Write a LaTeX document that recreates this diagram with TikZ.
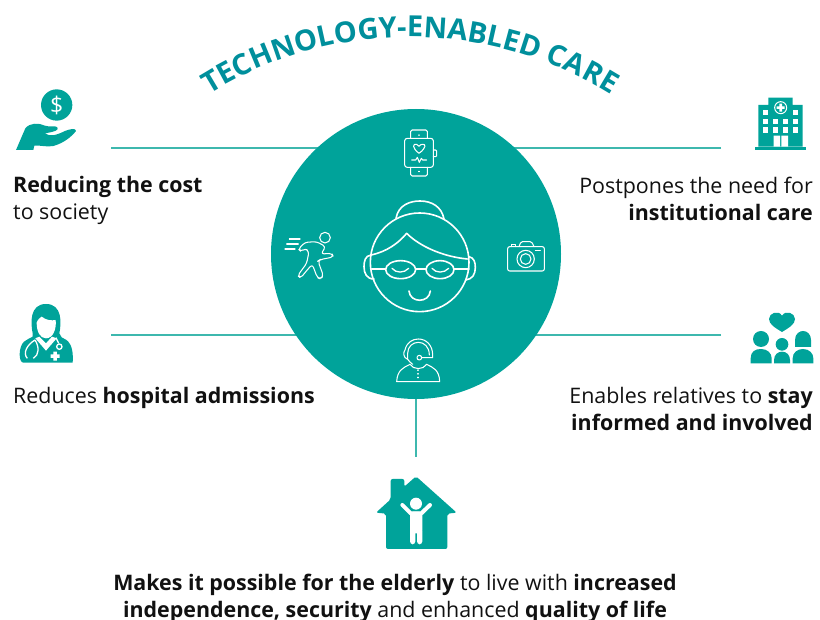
\documentclass[tikz,border=0pt]{standalone}
\usepackage{fontspec}
\setmainfont{Open Sans}
\usetikzlibrary{decorations.text,backgrounds}
\definecolor{teal1}{HTML}{00A39A}
\definecolor{teal2}{HTML}{008F9C}
\definecolor{rule1}{HTML}{3DB8AE}
\definecolor{ink}{HTML}{111111}
\tikzset{
  lab/.style={font=\fontsize{21.4}{27}\selectfont, text=ink, inner sep=0pt},
  link/.style={draw=rule1, line width=1.1pt},
  wl/.style={draw=white, line width=1.6pt, line join=round, line cap=round},
  wt/.style={draw=white, line width=1.05pt, line join=round, line cap=round},
  tf/.style={fill=teal1, draw=none},
  wf/.style={fill=white, draw=none},
  zoomA/.style={shift={(270,105)}, scale=1/3},
  zoomB/.style={shift={(0,80)}, scale=1/3},
  zoomC/.style={shift={(720,85)}, scale=1/3},
  zoomD/.style={shift={(360,465)}, scale=1/3}
}
\begin{document}
\begin{tikzpicture}[x=1pt,y=-1pt]
\useasboundingbox (0,0) rectangle (820,620);
\node[circle, fill=teal1, minimum size=290pt, inner sep=0pt] (hub) at (416,254) {};
% title
\path[decorate, decoration={text along path, text align=center,
  text={|\fontsize{29}{29}\selectfont\bfseries\color{teal2}|TECHNOLOGY-ENABLED CARE}}]
  (410,417) ++(230:380) arc[start angle=230, end angle=310, radius=380];
% labels
\node[lab, anchor=north west, align=left] (cost) at (13,176.5) {\textbf{Reducing the cost}\\to society};
\node[lab, anchor=north east, align=right] (inst) at (813,176.5) {Postpones the need for\\\textbf{institutional care}};
\node[lab, anchor=north west, align=left] (hosp) at (13,387.5) {Reduces \textbf{hospital admissions}};
\node[lab, anchor=north east, align=right] (rel) at (813,387.5) {Enables relatives to \textbf{stay}\\\textbf{informed and involved}};
\node[lab, anchor=north, align=center] (life) at (395,573.5) {\textbf{Makes it possible for the elderly} to live with \textbf{increased}\\\textbf{independence, security} and enhanced \textbf{quality of life}};
% connectors
\coordinate (costEnd) at (111,148);
\coordinate (instEnd) at (721,148);
\coordinate (hospEnd) at (111,335);
\coordinate (relEnd) at (721,335);
\coordinate (homeEnd) at (416,457);
\begin{scope}[on background layer]
\draw[link] (costEnd) -- (hub.center |- costEnd);
\draw[link] (instEnd) -- (hub.center |- instEnd);
\draw[link] (hospEnd) -- (hub.center |- hospEnd);
\draw[link] (relEnd) -- (hub.center |- relEnd);
\draw[link] (homeEnd) -- (hub.center);
\end{scope}
% grandmother, watch, camera, runner, agent
\begin{scope}[zoomA]
 \draw[wl] (449,472) circle[radius=148];
 \draw[wl] (378,340) .. controls (385,300) and (420,288) .. (450,288) .. controls (485,288) and (515,305) .. (522,342);
 \draw[wl] (303,450) .. controls (350,440) and (385,415) .. (410,385) .. controls (450,425) and (520,455) .. (592,462);
 \draw[wl] (303,450) .. controls (285,452) and (282,470) .. (282,485) .. controls (282,505) and (290,522) .. (312,522);
 \draw[wl] (597,455) .. controls (612,458) and (616,472) .. (616,487) .. controls (616,507) and (608,522) .. (588,525);
 \draw[wl] (392,494) ellipse[x radius=45, y radius=27];
 \draw[wl] (510,494) ellipse[x radius=42, y radius=27];
 \draw[wl] (305,492) -- (347,492) (437,492) -- (468,492) (552,492) -- (597,492);
 \draw[wt,line width=1.3pt] (366,490) .. controls (378,505) and (402,505) .. (416,490);
 \draw[wt,line width=1.3pt] (486,490) .. controls (498,505) and (522,505) .. (536,490);
 \draw[wl] (417,558) .. controls (420,595) and (478,595) .. (481,558);
 % watch
 \draw[wt,rounded corners=2.5pt] (404,100) rectangle (490,187);
 \draw[wt,rounded corners=1.5pt] (422,100) -- (422,75) -- (472,75) -- (472,100);
 \draw[wt,rounded corners=1.5pt] (422,187) -- (422,213) -- (472,213) -- (472,187);
 \draw[wt,rounded corners=1pt] (490,135) -- (500,135) -- (500,155) -- (490,155);
 \draw[wt] (447,90) -- (447,91) (447,199) -- (447,200);
 \draw[wt] (447,145) .. controls (425,128) and (428,115) .. (440,118) .. controls (444,119) and (446,122) .. (447,124) .. controls (449,120) and (453,118) .. (457,118) .. controls (468,116) and (470,128) .. (447,145);
 \draw[wt] (425,165) -- (437,165) -- (442,157) -- (448,172) -- (454,160) -- (458,165) -- (470,165);
 % camera
 \draw[wt,rounded corners=2pt] (713,425) rectangle (823,498);
 \draw[wt,rounded corners=1.5pt] (747,425) -- (753,410) -- (785,410) -- (792,425);
 \draw[wt] (725,425) -- (725,418) -- (737,418) -- (737,425);
 \draw[wt] (767,462) circle[radius=26] (767,462) circle[radius=16];
 \draw[wt] (796,437) -- (811,437);
 % runner
 \draw[wt] (165,398) circle[radius=16];
 \draw[wt] (58,402) -- (90,402) (50,417) -- (85,417) (45,432) -- (75,432);
 \draw[wt,rounded corners=3pt] (105,412) -- (140,410) -- (167,425) -- (153,447) -- (186,445) -- (190,456) -- (150,464) -- (144,468) -- (160,512) -- (152,522) -- (142,518) -- (127,478) -- (114,492) -- (92,519) -- (83,512) -- (110,475) -- (117,440) -- (106,430) -- (93,440) -- (85,432) -- cycle;
 % agent
 \draw[wt] (413,763) .. controls (398,758) and (400,740) .. (405,735) .. controls (410,712) and (428,702) .. (445,702) .. controls (470,702) and (488,722) .. (488,750) -- (488,758) -- (455,758);
 \draw[wt] (413,763) -- (413,745) .. controls (413,725) and (428,712) .. (445,712) .. controls (462,712) and (478,725) .. (478,750);
 \draw[wt] (413,763) .. controls (418,770) and (424,775) .. (428,778);
 \draw[wt] (448,758) circle[radius=7];
 \draw[wt] (380,830) .. controls (382,795) and (400,788) .. (420,778) .. controls (430,795) and (460,795) .. (470,778) .. controls (490,788) and (508,795) .. (509,830) -- cycle;
 \draw[wt,line width=1.4pt] (444,795) -- (444,796) (444,806) -- (444,807) (444,817) -- (444,818);
\end{scope}
% hand and coin
\begin{scope}[zoomB]
 \fill[tf] (170,75) circle[radius=47];
 \node[text=white, font=\fontsize{23}{23}\selectfont, inner sep=0pt] (dollar) at (170,75) {\$};
 \fill[tf] (48,210) -- (76,145) .. controls (90,128) and (115,128) .. (135,137) .. controls (150,143) and (165,135) .. (172,142) .. controls (178,150) and (165,155) .. (135,160) .. controls (150,172) and (170,165) .. (195,153) .. controls (210,147) and (228,143) .. (228,153) .. controls (215,170) and (190,190) .. (160,198) .. controls (140,202) and (120,195) .. (103,197) -- (100,210) -- cycle;
\end{scope}
% doctor
\begin{scope}[zoomB]
 \fill[tf] (98,760) .. controls (92,730) and (88,672) .. (138,672) .. controls (188,672) and (184,730) .. (178,760) -- (185,772) .. controls (205,780) and (222,795) .. (218,848) -- (70,848) .. controls (55,848) and (55,800) .. (72,785) .. controls (80,778) and (90,775) .. (98,770) -- cycle;
 \fill[wf] (110,728) .. controls (114,718) and (120,712) .. (125,710) .. controls (140,722) and (155,722) .. (167,720) .. controls (170,745) and (160,775) .. (138,775) .. controls (120,775) and (110,755) .. (110,728) -- cycle;
 \fill[wf] (106,775) -- (118,770) -- (138,790) -- (156,770) -- (170,775) -- (138,812) -- cycle;
 \draw[white,line width=1.3pt] (105,780) .. controls (80,795) and (68,820) .. (82,835) (105,780) .. controls (118,800) and (118,825) .. (100,835) (168,773) -- (176,790);
 \draw[white,line width=1.3pt] (178,800) circle[radius=8];
 \fill[wf] (160,815) rectangle (171,842) (152,823) rectangle (179,834);
\end{scope}
% hospital
\begin{scope}[zoomC]
 \fill[tf] (105,185) rectangle (258,195);
 \fill[tf] (115,185) -- (115,60) -- (145,60) -- (145,38) -- (218,38) -- (218,60) -- (248,60) -- (248,185) -- cycle;
 \draw[white,line width=1pt] (182,68) circle[radius=18];
 \fill[wf] (178,56) rectangle (186,80) (170,64) rectangle (194,72);
 \foreach \wx/\wy in {129/75,219/75,129/102,158/102,188/102,219/102,129/127,158/127,188/127,219/127}
   \fill[wf] (\wx,\wy) rectangle ++(16,16);
 \fill[wf] (161,152) rectangle (180,185) (184,152) rectangle (204,185);
\end{scope}
% family
\begin{scope}[zoomC]
 \fill[tf] (186,741) .. controls (165,728) and (147,718) .. (147,702) .. controls (147,684) and (175,674) .. (186,692) .. controls (197,674) and (225,684) .. (225,702) .. controls (225,718) and (207,728) .. (186,741) -- cycle;
 \fill[tf] (123,762) circle[radius=24];
 \fill[tf] (92,835) -- (92,820) .. controls (92,800) and (105,792) .. (123,792) .. controls (143,792) and (155,805) .. (155,820) -- (155,835) -- cycle;
 \fill[tf] (186,778) circle[radius=19];
 \fill[tf] (162,835) -- (162,825) .. controls (162,808) and (175,800) .. (186,800) .. controls (200,800) and (210,810) .. (210,825) -- (210,835) -- cycle;
 \fill[tf] (225,786) -- (225,765) .. controls (225,745) and (240,738) .. (249,738) .. controls (262,738) and (273,748) .. (273,765) -- (273,786) -- cycle;
 \fill[tf] (218,835) -- (218,820) .. controls (218,803) and (232,792) .. (249,792) .. controls (268,792) and (280,805) .. (280,820) -- (280,835) -- cycle;
\end{scope}
% house
\begin{scope}[zoomD]
 \fill[tf,rounded corners=2pt] (168,34) -- (290,143) -- (262,146) -- (262,252) -- (78,252) -- (78,146) -- (48,143) -- (92,103) -- (92,42) -- (133,42) -- (133,65) -- cycle;
 \fill[wf] (168,116) circle[radius=18];
 \draw[white,line width=4pt,line cap=round,line join=round] (127,120) -- (152,145) -- (184,145) -- (210,120);
 \fill[wf,rounded corners=3pt] (150,140) rectangle (187,205);
 \fill[wf,rounded corners=3pt] (150,190) rectangle (166,238) (171,190) rectangle (187,238);
\end{scope}
\end{tikzpicture}
\end{document}
